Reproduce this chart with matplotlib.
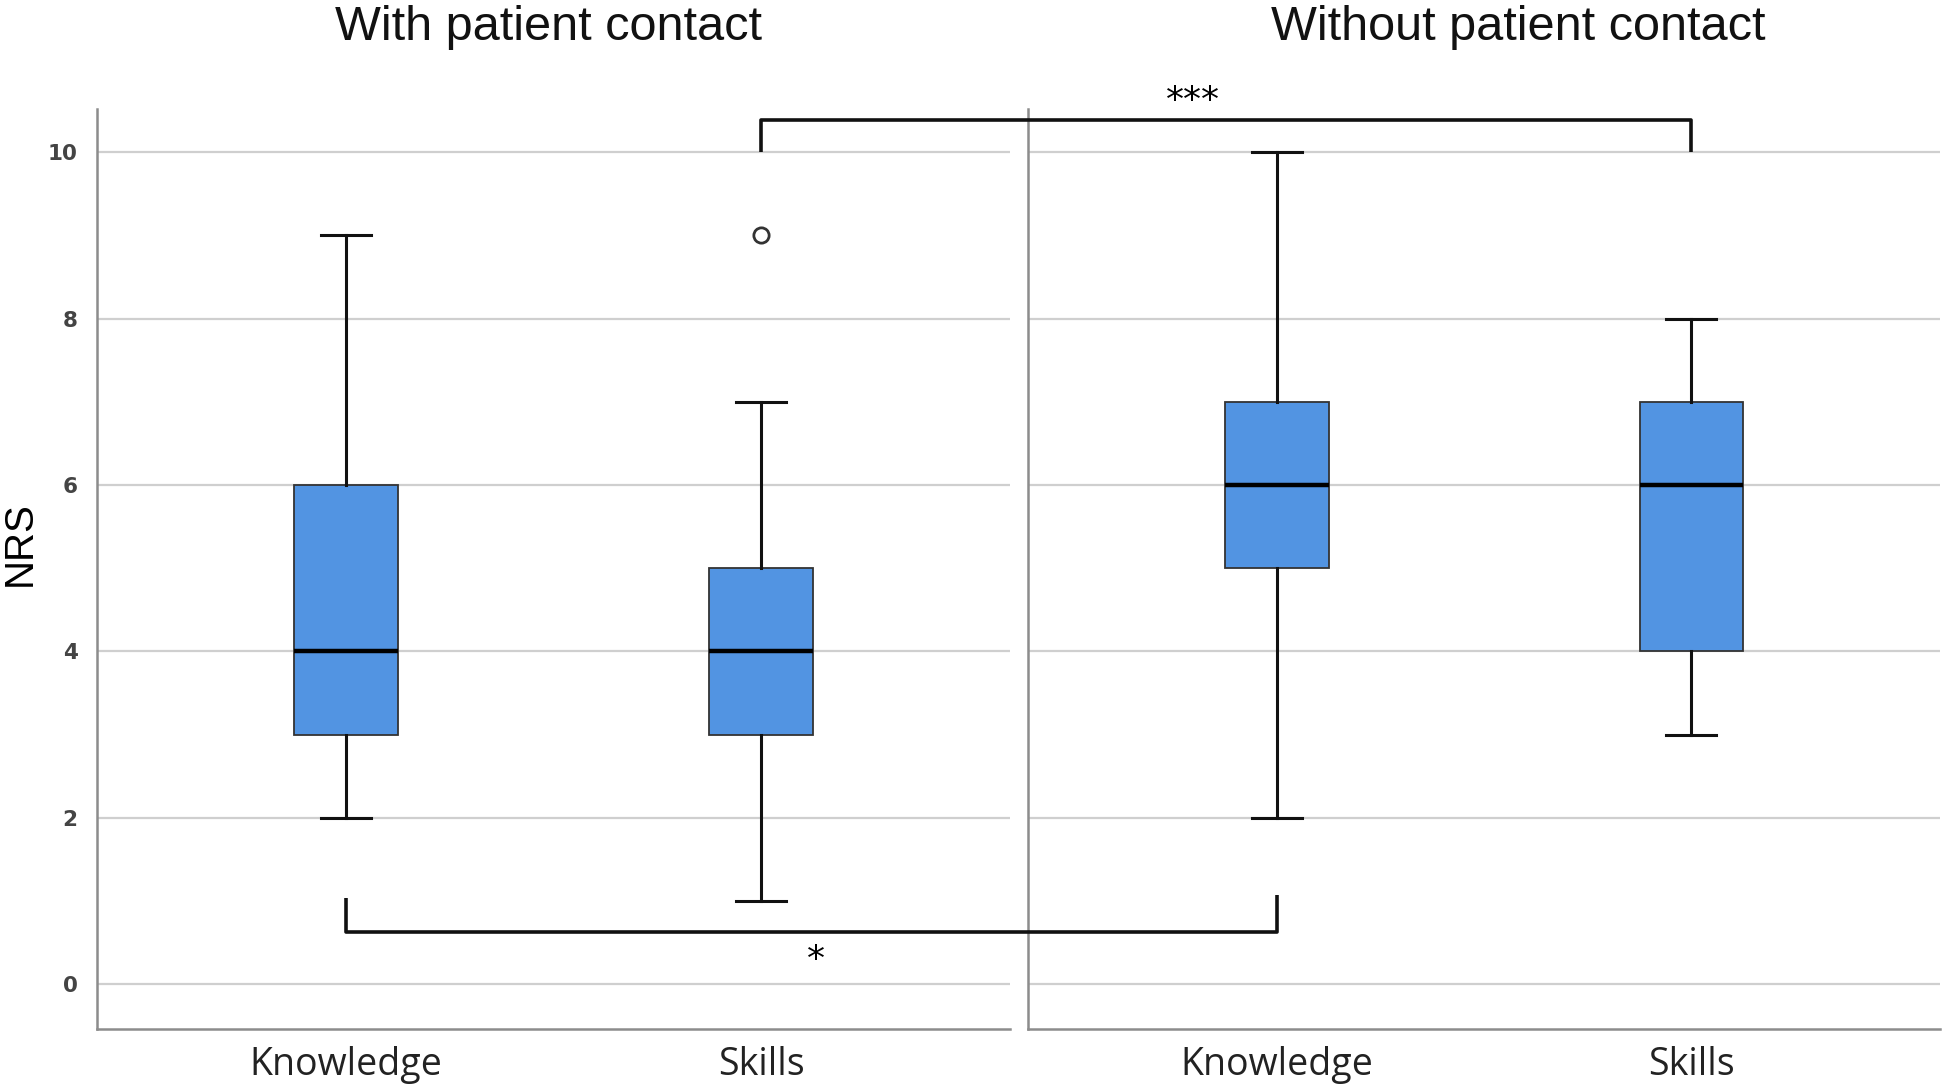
import matplotlib
matplotlib.use("Agg")
import matplotlib.pyplot as plt

# ---- data ----
panels = ["With patient contact", "Without patient contact"]
categories = ["Knowledge", "Skills"]
whislo = [[2, 1], [2, 3]]
q1 = [[3, 3], [5, 4]]
med = [[4, 4], [6, 6]]
q3 = [[6, 5], [7, 7]]
whishi = [[9, 7], [10, 8]]
fliers = [[[], [9]], [[], []]]
yticks = [0, 2, 4, 6, 8, 10]
sig_top = "***"
sig_bottom = "*"

box_color = "#5294e2"
grid_color = "#cfcfcf"
spine_color = "#8c8c8c"
title_x = [0.494, 0.538]

fig = plt.figure(figsize=(19.44, 10.88), dpi=100)
ax_l = fig.add_axes([0.0499, 0.0542, 0.4697, 0.8456])
ax_r = fig.add_axes([0.5288, 0.0542, 0.4692, 0.8456])
ax_l.set_zorder(3)
axes = [ax_l, ax_r]

for p, ax in enumerate(axes):
    stats = []
    for c, cat in enumerate(categories):
        stats.append(dict(label=cat, whislo=whislo[p][c], q1=q1[p][c], med=med[p][c],
                          q3=q3[p][c], whishi=whishi[p][c], fliers=fliers[p][c]))
    ax.bxp(stats, positions=[0, 1], widths=0.25, patch_artist=True,
           boxprops=dict(facecolor=box_color, edgecolor="#333333", linewidth=1.3),
           medianprops=dict(color="black", linewidth=3.2),
           whiskerprops=dict(color="#111111", linewidth=2.2),
           capprops=dict(color="#111111", linewidth=2.2),
           capwidths=0.12,
           flierprops=dict(marker="o", markerfacecolor="white", markeredgecolor="#333333",
                           markersize=11, markeredgewidth=2))
    ax.set_xlim(-0.6, 1.6)
    ax.set_ylim(-0.54, 10.52)
    ax.set_yticks(yticks)
    ax.grid(axis="y", color=grid_color, linewidth=1.6)
    ax.set_axisbelow(True)
    for s in ["top", "right"]:
        ax.spines[s].set_visible(False)
    ax.spines["left"].set_color(spine_color)
    ax.spines["bottom"].set_color(spine_color)
    ax.spines["left"].set_linewidth(1.8)
    ax.spines["bottom"].set_linewidth(1.8)
    ax.tick_params(length=0)
    ax.set_xticks([0, 1])
    ax.set_xticklabels(categories, fontsize=27, family="Open Sans", color="#222222")
    ax.tick_params(axis="x", pad=12)
    ax.set_title(panels[p], fontsize=35, family="Liberation Sans", pad=50, color="#111111",
                 x=title_x[p])

ax_l.set_yticklabels([str(t) for t in yticks], fontsize=15.5, family="DejaVu Sans",
                     fontweight="bold", color="#444444")
ax_l.tick_params(axis="y", pad=14)
ax_r.set_yticklabels([])
ax_l.set_ylabel("NRS", fontsize=29, family="Liberation Sans", labelpad=8)
ax_l.yaxis.set_label_coords(-0.064, 0.528)

# significance brackets (right-panel positions converted into left-axes data coords)
def to_left(x_r):
    disp = ax_r.transData.transform((x_r, 0))
    return ax_l.transData.inverted().transform(disp)[0]

kw = dict(color="#111111", linewidth=2.6, clip_on=False, solid_capstyle="butt")
xa, xb = 1, to_left(1)
ax_l.plot([xa, xa, xb, xb], [10.0, 10.39, 10.39, 10.0], **kw)
ax_l.text((xa + xb) / 2 - 0.08, 10.62, sig_top, ha="center", va="center", fontsize=26,
          family="DejaVu Sans", clip_on=False)
xa, xb = 0, to_left(0)
ax_l.plot([xa, xa, xb, xb], [1.03, 0.63, 0.63, 1.07], **kw)
ax_l.text((xa + xb) / 2 + 0.01, 0.29, sig_bottom, ha="center", va="center", fontsize=26,
          family="DejaVu Sans", clip_on=False)

fig.savefig("out.png", dpi=100, facecolor="white")
